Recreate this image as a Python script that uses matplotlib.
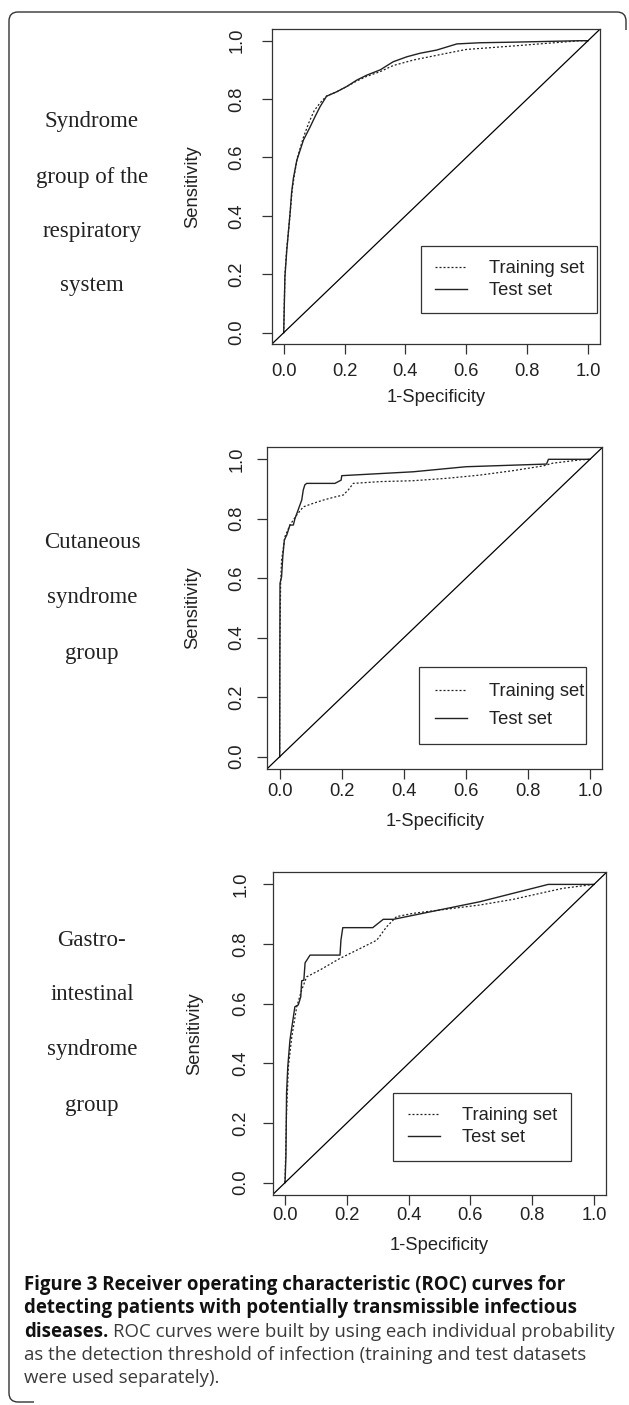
import numpy as np
import matplotlib
matplotlib.use("Agg")
import matplotlib.pyplot as plt
from matplotlib.path import Path
from matplotlib.patches import PathPatch

W, H = 629, 1405

# ROC points: (1 - specificity, sensitivity)
resp_test_fpr = [0.0, 0.004, 0.01, 0.015, 0.021, 0.026, 0.032, 0.043, 0.054, 0.065, 0.087,
                 0.103, 0.12, 0.141, 0.174, 0.207, 0.24, 0.273, 0.317, 0.36, 0.405, 0.448,
                 0.503, 0.569, 0.646, 0.755, 0.975, 1.0]
resp_test_tpr = [0.0, 0.19, 0.28, 0.34, 0.41, 0.48, 0.53, 0.59, 0.625, 0.66, 0.705,
                 0.74, 0.775, 0.81, 0.825, 0.843, 0.865, 0.882, 0.9, 0.928, 0.945, 0.957,
                 0.968, 0.989, 0.993, 0.995, 1.0, 1.0]
resp_train_fpr = [0.0, 0.004, 0.01, 0.016, 0.022, 0.028, 0.035, 0.045, 0.055, 0.065, 0.083,
                  0.1, 0.118, 0.14, 0.174, 0.207, 0.24, 0.273, 0.317, 0.36, 0.427, 0.536,
                  0.6, 0.755, 0.865, 0.975, 1.0]
resp_train_tpr = [0.0, 0.2, 0.29, 0.35, 0.42, 0.49, 0.54, 0.6, 0.635, 0.67, 0.72,
                  0.76, 0.785, 0.81, 0.825, 0.843, 0.862, 0.878, 0.894, 0.915, 0.934, 0.957,
                  0.97, 0.982, 0.991, 1.0, 1.0]

cut_test_fpr = [0.0, 0.001, 0.006, 0.01, 0.015, 0.023, 0.033, 0.044, 0.049, 0.071, 0.076,
                0.081, 0.087, 0.178, 0.198, 0.2, 0.43, 0.6, 0.86, 0.866, 1.0]
cut_test_tpr = [0.0, 0.583, 0.605, 0.673, 0.729, 0.746, 0.779, 0.779, 0.8, 0.863, 0.897,
                0.914, 0.919, 0.919, 0.93, 0.945, 0.958, 0.975, 0.984, 1.0, 1.0]
cut_train_fpr = [0.0, 0.0, 0.003, 0.006, 0.017, 0.033, 0.055, 0.076, 0.108, 0.141, 0.173,
                 0.205, 0.221, 0.237, 0.323, 0.43, 0.538, 0.646, 0.753, 0.85, 0.88, 0.968, 1.0]
cut_train_tpr = [0.0, 0.325, 0.583, 0.66, 0.74, 0.779, 0.813, 0.84, 0.852, 0.863, 0.872,
                 0.88, 0.897, 0.919, 0.925, 0.928, 0.936, 0.947, 0.962, 0.978, 0.987, 0.998, 1.0]

gi_test_fpr = [0.0, 0.003, 0.005, 0.009, 0.016, 0.032, 0.043, 0.051, 0.054, 0.061, 0.065,
               0.081, 0.178, 0.181, 0.187, 0.284, 0.318, 0.351, 0.631, 0.852, 1.0]
gi_test_tpr = [0.0, 0.087, 0.30, 0.389, 0.478, 0.59, 0.596, 0.623, 0.677, 0.679, 0.737,
               0.763, 0.763, 0.813, 0.855, 0.855, 0.883, 0.883, 0.942, 1.0, 1.0]
gi_train_fpr = [0.0, 0.005, 0.011, 0.022, 0.038, 0.054, 0.07, 0.113, 0.178, 0.243, 0.297,
                0.329, 0.361, 0.415, 0.631, 0.739, 0.847, 0.9, 1.0]
gi_train_tpr = [0.0, 0.232, 0.389, 0.489, 0.59, 0.646, 0.69, 0.713, 0.752, 0.785, 0.813,
                0.858, 0.892, 0.903, 0.931, 0.95, 0.975, 0.987, 1.0]

group_labels = [["Syndrome", "group of the", "respiratory", "system"],
                ["Cutaneous", "syndrome", "group"],
                ["Gastro-", "intestinal", "syndrome", "group"]]
ticks = [0.0, 0.2, 0.4, 0.6, 0.8, 1.0]
tick_labels = ["0.0", "0.2", "0.4", "0.6", "0.8", "1.0"]

curves = [(resp_train_fpr, resp_train_tpr, resp_test_fpr, resp_test_tpr),
          (cut_train_fpr, cut_train_tpr, cut_test_fpr, cut_test_tpr),
          (gi_train_fpr, gi_train_tpr, gi_test_fpr, gi_test_tpr)]

# pixel geometry of each panel: tick 0 / tick 1 positions, label positions, legend box
panels = [
    dict(x0=283.7, x1=588.0, y0=332.7, y1=40.7, xtl=372, xl=398, ytl=235, yl=193,
         leg=(0.451, 0.066, 0.577, 0.232), bp=0.78, ls=0.27, text_y=[122, 177, 232, 286]),
    dict(x0=279.7, x1=590.0, y0=756.7, y1=459.3, xtl=792, xl=822, ytl=235, yl=193,
         leg=(0.449, 0.042, 0.539, 0.259), bp=0.87, ls=0.62, text_y=[543, 598, 653]),
    dict(x0=285.0, x1=594.0, y0=1182.7, y1=884.4, xtl=1216, xl=1246, ytl=239, yl=195,
         leg=(0.351, 0.072, 0.575, 0.230), bp=0.8, ls=0.27, text_y=[940, 995, 1050, 1105]),
]

ink = "#222222"
axis_col = "#333333"
fs = 13.2
sans = ["Liberation Sans", "DejaVu Sans"]

fig = plt.figure(figsize=(W / 100, H / 100), dpi=100)

# overlay in pixel coordinates for frame, group names and caption
ov = fig.add_axes([0, 0, 1, 1])
ov.set_xlim(0, W)
ov.set_ylim(H, 0)
ov.axis("off")

# journal-style frame: left + top edge, rounded corners
r = 9
verts = [(34, 1402), (9 + r, 1402), (9, 1402), (9, 1402 - r), (9, 12 + r), (9, 12), (9 + r, 12),
         (626 - r, 12), (626, 12), (626, 12 + r), (626, 30)]
codes = [Path.MOVETO, Path.LINETO, Path.CURVE3, Path.CURVE3, Path.LINETO, Path.CURVE3, Path.CURVE3,
         Path.LINETO, Path.CURVE3, Path.CURVE3, Path.LINETO]
ov.add_patch(PathPatch(Path(verts, codes), fill=False, lw=1.0, ec="#333333"))

for p, names, (trx, trY, tex, teY) in zip(panels, group_labels, curves):
    sx = p["x1"] - p["x0"]
    sy = p["y0"] - p["y1"]
    left = p["x0"] - 0.04 * sx
    width = 1.08 * sx
    top = p["y1"] - 0.04 * sy
    height = 1.08 * sy
    bottom = top + height
    ax = fig.add_axes([left / W, 1 - bottom / H, width / W, height / H])
    ax.set_xlim(-0.04, 1.04)
    ax.set_ylim(-0.04, 1.04)

    ax.plot(trx, trY, color=ink, lw=0.9, linestyle=(0, (1.6, 1.6)), label="Training set")
    ax.plot(tex, teY, color=ink, lw=1.0, label="Test set")
    ax.axline((0, 0), (1, 1), color="black", lw=0.9)

    for s in ax.spines.values():
        s.set_color(axis_col)
        s.set_linewidth(0.9)

    ax.set_xticks(ticks)
    ax.set_xticklabels(tick_labels)
    ax.set_yticks(ticks)
    ax.set_yticklabels(tick_labels)
    tick_len_px = 10
    ax.tick_params(length=tick_len_px * 0.72, width=0.9, color=axis_col, labelsize=fs,
                   labelcolor=ink)
    ax.tick_params(axis="y", labelrotation=90)
    # x tick labels centred on the measured row
    xpad = (p["xtl"] - bottom - tick_len_px - 1) * 0.72
    ax.tick_params(axis="x", pad=xpad)
    for t in ax.get_xticklabels():
        t.set_va("center")
        t.set_fontfamily(sans)
    ypad = (left - p["ytl"] - tick_len_px - 2) * 0.72
    ax.tick_params(axis="y", pad=ypad)
    for t in ax.get_yticklabels():
        t.set_ha("center")
        t.set_va("center")
        t.set_fontfamily(sans)

    ax.set_xlabel("1-Specificity", fontsize=fs, color=ink, family=sans)
    ax.set_ylabel("Sensitivity", fontsize=fs, color=ink, family=sans)
    ax.xaxis.label.set_va("center")
    ax.yaxis.label.set_va("center")
    ax.xaxis.set_label_coords(0.5, -(p["xl"] - bottom) / height)
    ax.yaxis.set_label_coords((p["yl"] - left) / width, 0.5)

    leg = ax.legend(loc="center", bbox_to_anchor=p["leg"], bbox_transform=ax.transData,
                    mode="expand", fancybox=False, framealpha=1, edgecolor=axis_col,
                    borderpad=p["bp"], labelspacing=p["ls"], handlelength=1.75,
                    handletextpad=1.2, borderaxespad=0,
                    prop=dict(family=sans, size=fs))
    leg.get_frame().set_linewidth(0.9)
    for t in leg.get_texts():
        t.set_color(ink)

    for name, yy in zip(names, p["text_y"]):
        ov.text(92, yy, name, ha="center", va="center", fontsize=16.5, color=ink,
                family=["Liberation Serif", "DejaVu Serif"])

# caption
cap_font = ["Open Sans", "DejaVu Sans"]
cap_x = 24
base = [1290, 1313.3, 1336.7, 1360, 1383.3]
bold_col = "#111111"
norm_col = "#3a3a3a"

fig.canvas.draw()
renderer = fig.canvas.get_renderer()
probe = ov.text(cap_x, base[0], "Figure 3 Receiver operating characteristic (ROC) curves for",
                fontsize=10, weight="bold", family=cap_font)
wpx = probe.get_window_extent(renderer).width
cap_fs = 10 * 543 / wpx
probe.remove()

ov.text(cap_x, base[0], "Figure 3 Receiver operating characteristic (ROC) curves for",
        fontsize=cap_fs, weight="bold", family=cap_font, color=bold_col, va="baseline")
ov.text(cap_x, base[1], "detecting patients with potentially transmissible infectious",
        fontsize=cap_fs, weight="bold", family=cap_font, color=bold_col, va="baseline")
t1 = ov.text(cap_x, base[2], "diseases.", fontsize=cap_fs, weight="bold", family=cap_font,
             color=bold_col, va="baseline")
w1 = t1.get_window_extent(renderer).width
ov.text(cap_x + w1 + cap_fs * 0.35, base[2],
        "ROC curves were built by using each individual probability",
        fontsize=cap_fs, family=cap_font, color=norm_col, va="baseline")
ov.text(cap_x, base[3], "as the detection threshold of infection (training and test datasets",
        fontsize=cap_fs, family=cap_font, color=norm_col, va="baseline")
ov.text(cap_x, base[4], "were used separately).",
        fontsize=cap_fs, family=cap_font, color=norm_col, va="baseline")

fig.savefig("out.png", dpi=100)
